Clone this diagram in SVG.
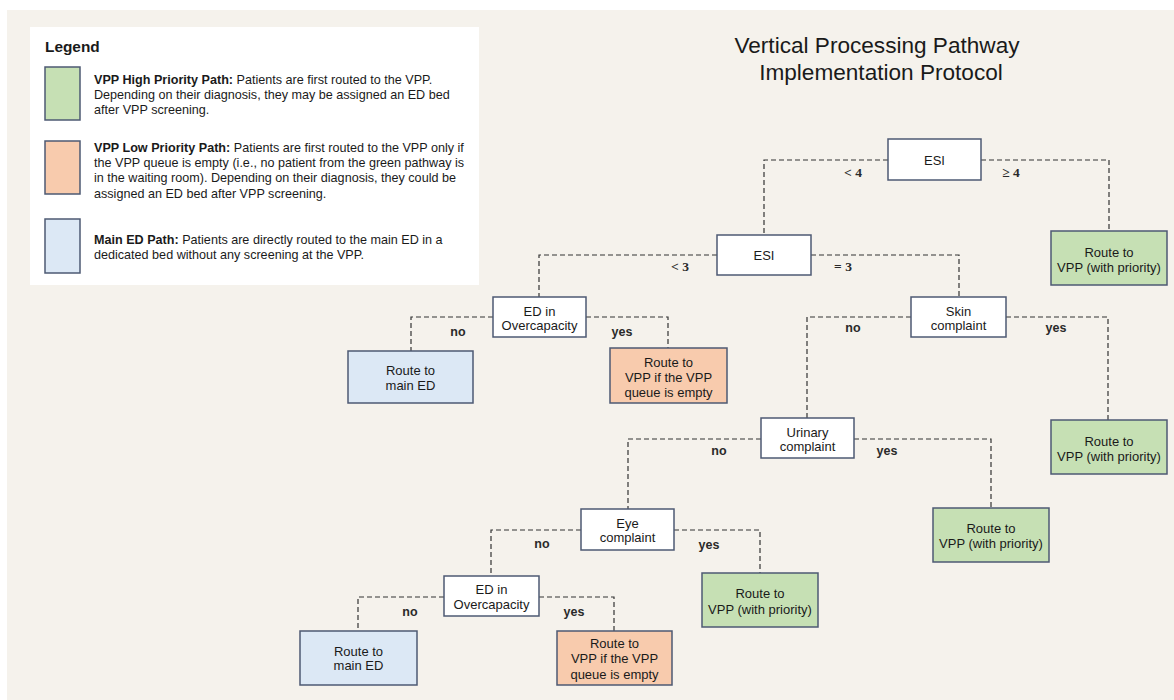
<svg xmlns="http://www.w3.org/2000/svg" width="1174" height="700" viewBox="0 0 1174 700">
<style>
  .bg{fill:#f5f2ec}
  .box{stroke:#4d5a73;stroke-width:1.5}
  .dec{fill:#ffffff}
  .hi{fill:#c6e0b4}
  .lo{fill:#f8cbad}
  .ed{fill:#dce8f5}
  .conn{fill:none;stroke:#333333;stroke-width:1.2;stroke-dasharray:5,3}
  .t{font-family:"Liberation Sans",Arial,sans-serif;font-size:13px;fill:#1a1a1a;text-anchor:middle}
  .lbl{font-family:"Liberation Sans",Arial,sans-serif;font-size:12.5px;font-weight:bold;fill:#2a2a2a;text-anchor:middle}
  .sym{font-family:"Liberation Serif","Times New Roman",serif;font-size:13.5px;font-weight:bold;fill:#2a2a2a;text-anchor:middle}
  .leg{font-family:"Liberation Sans",Arial,sans-serif;font-size:12.6px;fill:#1a1a1a}
  .b{font-weight:bold}
  .title{font-family:"Liberation Sans",Arial,sans-serif;font-size:22.6px;fill:#1a1a1a;text-anchor:middle}
</style>
<rect x="0" y="0" width="1174" height="700" fill="#ffffff"/>
<rect class="bg" x="7" y="10" width="1167" height="690"/>

<g id="legend">
  <rect x="30" y="27" width="449" height="258" fill="#ffffff"/>
  <text x="45" y="52" font-family="Liberation Sans, Arial, sans-serif" font-size="15.4" font-weight="bold" fill="#1a1a1a">Legend</text>
  <rect class="box hi" x="45" y="67" width="35" height="53"/>
  <text class="leg" x="94" y="83.5"><tspan class="b">VPP High Priority Path:</tspan> Patients are first routed to the VPP.</text>
  <text class="leg" x="94" y="98.5">Depending on their diagnosis, they may be assigned an ED bed</text>
  <text class="leg" x="94" y="113.5">after VPP screening.</text>
  <rect class="box lo" x="45" y="141" width="35" height="53"/>
  <text class="leg" x="94" y="151.5"><tspan class="b">VPP Low Priority Path:</tspan> Patients are first routed to the VPP only if</text>
  <text class="leg" x="94" y="166.5">the VPP queue is empty (i.e., no patient from the green pathway is</text>
  <text class="leg" x="94" y="181.5">in the waiting room). Depending on their diagnosis, they could be</text>
  <text class="leg" x="94" y="197.5">assigned an ED bed after VPP screening.</text>
  <rect class="box ed" x="45" y="219" width="35" height="54"/>
  <text class="leg" x="94" y="243.5"><tspan class="b">Main ED Path:</tspan> Patients are directly routed to the main ED in a</text>
  <text class="leg" x="94" y="258.5">dedicated bed without any screening at the VPP.</text>
</g>

<g id="title">
  <text class="title" x="877" y="53">Vertical Processing Pathway</text>
  <text class="title" x="881" y="80">Implementation Protocol</text>
</g>

<g id="connectors">
  <path class="conn" d="M888,160 H764 V235"/>
  <path class="conn" d="M981,160 H1109 V231"/>
  <path class="conn" d="M717,255 H539 V297"/>
  <path class="conn" d="M811,255 H959 V297"/>
  <path class="conn" d="M493,317 H411 V351"/>
  <path class="conn" d="M586,317 H668 V348"/>
  <path class="conn" d="M911,317 H807 V418"/>
  <path class="conn" d="M1006,317 H1108 V420"/>
  <path class="conn" d="M761,439 H628 V509"/>
  <path class="conn" d="M854,439 H991 V508"/>
  <path class="conn" d="M581,530 H491 V576"/>
  <path class="conn" d="M674,530 H760 V573"/>
  <path class="conn" d="M444,597 H358 V631"/>
  <path class="conn" d="M539,597 H614 V631"/>
  <text class="sym" x="853" y="177">&lt; 4</text>
  <text class="sym" x="1011" y="177">≥ 4</text>
  <text class="sym" x="680" y="271">&lt; 3</text>
  <text class="sym" x="843" y="271">= 3</text>
  <text class="lbl" x="458" y="336">no</text>
  <text class="lbl" x="622" y="336">yes</text>
  <text class="lbl" x="853" y="332">no</text>
  <text class="lbl" x="1056" y="332">yes</text>
  <text class="lbl" x="719" y="455">no</text>
  <text class="lbl" x="887" y="455">yes</text>
  <text class="lbl" x="542" y="548">no</text>
  <text class="lbl" x="709" y="549">yes</text>
  <text class="lbl" x="410" y="616">no</text>
  <text class="lbl" x="574" y="616">yes</text>
</g>

<g id="esi1"><rect class="box dec" x="888" y="139" width="93" height="41"/><text class="t" x="934.5" y="164.5">ESI</text></g>
<g id="esi2"><rect class="box dec" x="717" y="235" width="94" height="40"/><text class="t" x="764" y="259.5">ESI</text></g>
<g id="green1"><rect class="box hi" x="1051" y="231" width="116" height="54"/><text class="t" x="1109" y="256.5">Route to</text><text class="t" x="1109" y="271.5">VPP (with priority)</text></g>
<g id="ed1"><rect class="box dec" x="493" y="297" width="93" height="40"/><text class="t" x="539.5" y="315.5">ED in</text><text class="t" x="539.5" y="329.5">Overcapacity</text></g>
<g id="skin"><rect class="box dec" x="911" y="297" width="95" height="40"/><text class="t" x="958.5" y="315.5">Skin</text><text class="t" x="958.5" y="329.5">complaint</text></g>
<g id="blue1"><rect class="box ed" x="348" y="351" width="125" height="52"/><text class="t" x="410.5" y="374.5">Route to</text><text class="t" x="410.5" y="389.5">main ED</text></g>
<g id="orange1"><rect class="box lo" x="610" y="348" width="117" height="55"/><text class="t" x="668.5" y="366.5">Route to</text><text class="t" x="668.5" y="381.5">VPP if the VPP</text><text class="t" x="668.5" y="396.5">queue is empty</text></g>
<g id="urinary"><rect class="box dec" x="761" y="418" width="93" height="40"/><text class="t" x="807.5" y="436.5">Urinary</text><text class="t" x="807.5" y="450.5">complaint</text></g>
<g id="green2"><rect class="box hi" x="1051" y="420" width="116" height="54"/><text class="t" x="1109" y="445.5">Route to</text><text class="t" x="1109" y="460.5">VPP (with priority)</text></g>
<g id="eye"><rect class="box dec" x="581" y="509" width="93" height="41"/><text class="t" x="627.5" y="527.5">Eye</text><text class="t" x="627.5" y="541.5">complaint</text></g>
<g id="green3"><rect class="box hi" x="933" y="508" width="116" height="54"/><text class="t" x="991" y="532.5">Route to</text><text class="t" x="991" y="547.5">VPP (with priority)</text></g>
<g id="ed2"><rect class="box dec" x="444" y="576" width="95" height="40"/><text class="t" x="491.5" y="593.5">ED in</text><text class="t" x="491.5" y="608.5">Overcapacity</text></g>
<g id="green4"><rect class="box hi" x="702" y="573" width="116" height="54"/><text class="t" x="760" y="597.5">Route to</text><text class="t" x="760" y="613.5">VPP (with priority)</text></g>
<g id="blue2"><rect class="box ed" x="300" y="631" width="117" height="54"/><text class="t" x="358.5" y="655.5">Route to</text><text class="t" x="358.5" y="669.5">main ED</text></g>
<g id="orange2"><rect class="box lo" x="557" y="631" width="115" height="54"/><text class="t" x="614.5" y="647.5">Route to</text><text class="t" x="614.5" y="662.5">VPP if the VPP</text><text class="t" x="614.5" y="678.5">queue is empty</text></g>
</svg>
